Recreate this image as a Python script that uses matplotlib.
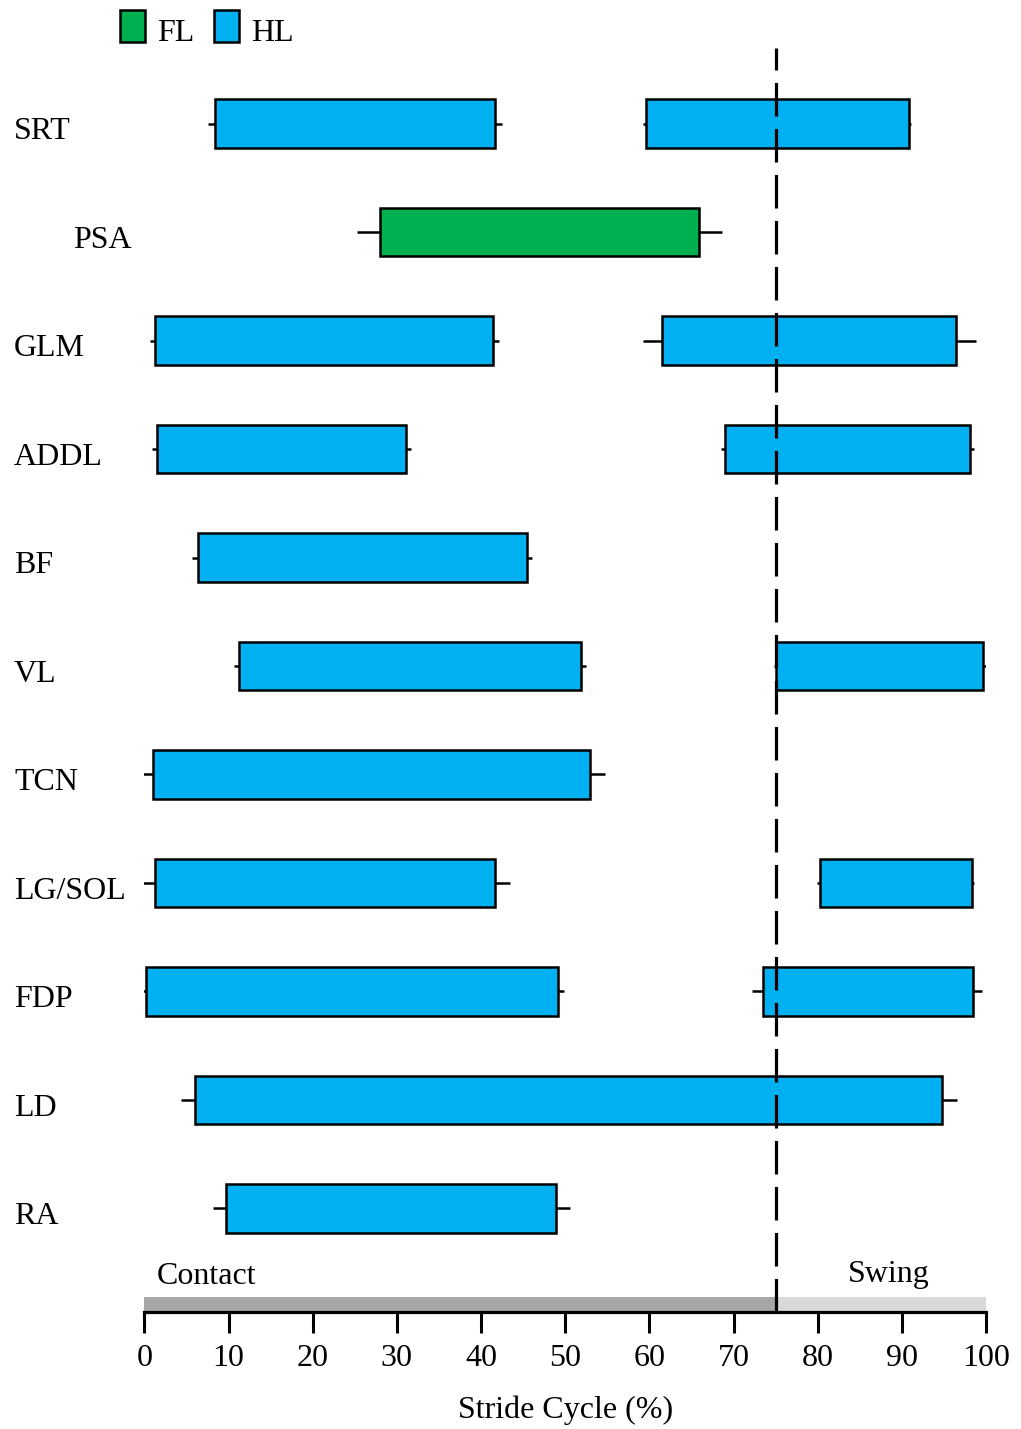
import numpy as np
import matplotlib.pyplot as plt
from matplotlib.patches import Rectangle
import matplotlib.transforms as mtransforms

plt.rcParams['font.family'] = ['Liberation Serif', 'DejaVu Serif']

# EMG burst timing, % of stride cycle (mean onset/offset with SD)
muscles = ["SRT", "PSA", "GLM", "ADDL", "BF", "VL", "TCN", "LG/SOL", "FDP", "LD", "RA"]
limb = ["HL", "FL", "HL", "HL", "HL", "HL", "HL", "HL", "HL", "HL", "HL"]

on1 = [8.4, 28.0, 1.3, 1.5, 6.4, 11.2, 1.0, 1.2, 0.2, 6.0, 9.7]
off1 = [41.7, 65.9, 41.4, 31.1, 45.4, 51.9, 53.0, 41.6, 49.1, 94.8, 48.9]
on1_sd = [0.8, 2.7, 0.7, 0.6, 0.7, 0.6, 1.7, 1.8, 0.7, 1.7, 1.6]
off1_sd = [0.8, 2.7, 0.7, 0.6, 0.6, 0.6, 1.7, 1.8, 0.7, 1.7, 1.7]

nan = np.nan
on2 = [59.6, nan, 61.5, 69.0, nan, 75.1, nan, 80.3, 73.5, nan, nan]
off2 = [90.8, nan, 96.4, 98.1, nan, 99.7, nan, 98.3, 98.4, nan, nan]
on2_sd = [0.3, nan, 2.2, 0.5, nan, 0.3, nan, 0.4, 1.3, nan, nan]
off2_sd = [0.3, nan, 2.4, 0.5, nan, 0.3, nan, 0.3, 1.1, nan, nan]

phases = ["Contact", "Swing"]
phase_edges = [0, 75, 100]
phase_colors = ["#a6a6a6", "#d9d9d9"]

limb_colors = {"FL": "#00b050", "HL": "#00b0f0"}

fig = plt.figure(figsize=(10.21, 14.29), dpi=100)
ax = fig.add_axes([0.1415, 0.0819, 0.8242, 0.8845])

fs = 23
bar_h = 0.45
lw = 1.8

for i, m in enumerate(muscles):
    col = limb_colors[limb[i]]
    for a, b, ea, eb in [(on1[i], off1[i], on1_sd[i], off1_sd[i]),
                         (on2[i], off2[i], on2_sd[i], off2_sd[i])]:
        if np.isnan(a):
            continue
        ax.errorbar([a, b], [i, i], xerr=[[ea, 0], [0, eb]], fmt='none',
                    ecolor='black', elinewidth=lw, capsize=0, zorder=2)
        ax.barh(i, b - a, left=a, height=bar_h, color=col,
                edgecolor='black', linewidth=lw, zorder=3)

# muscle names, forelimb muscles indented
trans = mtransforms.blended_transform_factory(fig.transFigure, ax.transData)
for i, m in enumerate(muscles):
    x = 73 / 1021 if limb[i] == "FL" else 14 / 1021
    ax.text(x, i + 0.075, m, transform=trans, ha='left', va='center', fontsize=fs)

ax.set_xlim(0, 100)
ax.set_ylim(10.954, -0.696)

# stance / swing band along the axis
btrans = mtransforms.blended_transform_factory(ax.transData, ax.transAxes)
for k, name in enumerate(phases):
    x0, x1 = phase_edges[k], phase_edges[k + 1]
    ax.add_patch(Rectangle((x0, 0), x1 - x0, 0.012, transform=btrans,
                           facecolor=phase_colors[k], edgecolor='none', zorder=1))
ax.text(1.4, 0.022, phases[0], transform=btrans, fontsize=fs, va='baseline')
ax.text(83.6, 0.024, phases[1], transform=btrans, fontsize=fs, va='baseline')

ax.axvline(phase_edges[1], color='black', linewidth=2.3,
           linestyle=(0, (10.5, 3.9)), zorder=5)

for s in ['left', 'right', 'top']:
    ax.spines[s].set_visible(False)
ax.spines['bottom'].set_linewidth(2.3)
ax.set_yticks([])
ax.set_xticks(np.arange(0, 101, 10))
ax.tick_params(axis='x', length=15, width=2.2, pad=8, labelsize=fs)
ax.set_xlabel("Stride Cycle (%)", fontsize=fs, labelpad=16)

# legend boxes
for name, x0 in [("FL", 120), ("HL", 214)]:
    fig.patches.append(Rectangle((x0 / 1021, 1 - 42 / 1429), 25 / 1021, 32 / 1429,
                                 transform=fig.transFigure, facecolor=limb_colors[name],
                                 edgecolor='black', linewidth=1.8))
    fig.text((x0 + 37) / 1021, 1 - 41 / 1429, name, fontsize=fs, va='baseline')

fig.savefig("out.png", dpi=100)
